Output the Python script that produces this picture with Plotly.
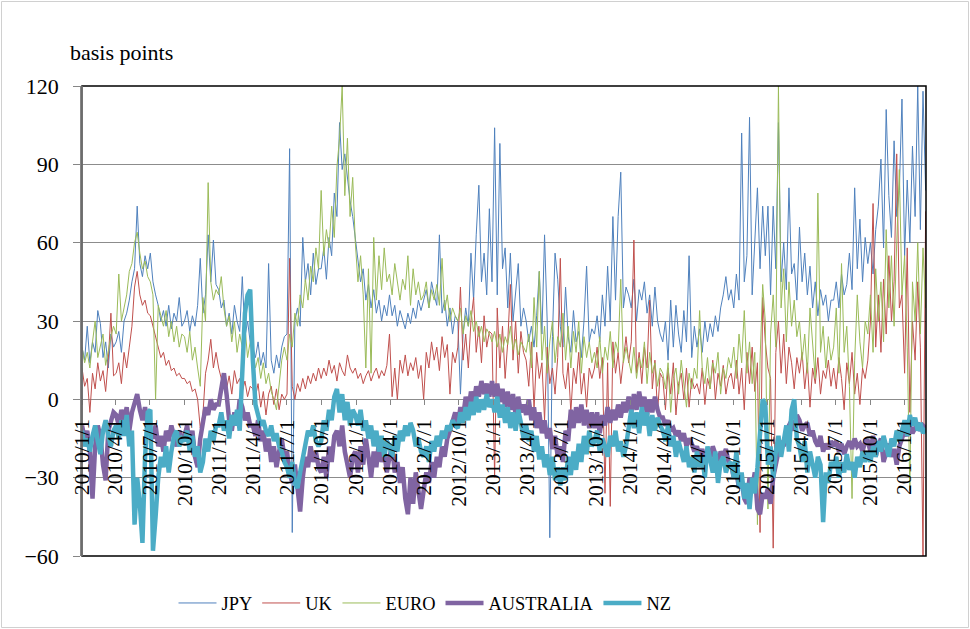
import pandas as pd
import plotly.graph_objects as go

# ---- data (weekly readings, 2010-01-01 onwards; one line per quarter) ----
JPY = [
    20, 15, 28, 14, 22, 18, 34, 29, 16, 22, 12, 25, 20,
    22, 26, 18, 30, 33, 38, 45, 50, 74, 52, 47, 55, 50,
    56, 45, 40, 36, 30, 34, 28, 36, 27, 33, 30, 39, 28,
    30, 34, 26, 32, 28, 36, 54, 33, 40, 63, 45, 61, 44,
    42, 35, 38, 28, 33, 25, 36, 30, 26, 47, 24, 30, 22,
    20, 16, 22, 13, 18, 12, 52, 15, 10, 17, 12, 20, 24,
    25, 96, -51, 30, 35, 28, 62, 45, 52, 40, 56, 44, 50,
    50, 58, 46, 62, 55, 79, 70, 106, 88, 94, 84, 76, 70,
    62, 52, 45, 50, 38, 44, 35, 42, 33, 38, 30, 36, 32,
    40, 32, 36, 28, 34, 30, 27, 33, 29, 35, 31, 38, 34,
    38, 42, 35, 45, 40, 36, 63, 33, 38, 28, 35, 25, 32,
    30, 2, 25, 35, 28, 56, 38, 63, 82, 45, 56, 40, 73,
    45, 104, 40, 98, 50, 58, 35, 56, 30, 42, 52, 28, 35,
    30, 22, 28, 20, 32, 49, 25, 63, 30, -53, 24, 56, 46,
    28, 20, 43, 24, 18, 34, 22, 26, 16, 30, 51, 22, 27,
    25, 32, 22, 40, 28, 51, 30, 70, 38, 70, 87, 35, 43,
    40, 35, 46, 30, 42, 38, 45, 33, 40, 28, 43, 30, 25,
    22, 30, 15, 38, 20, 36, 25, 18, 34, 22, 55, 16, 28,
    20, 27, 18, 30, 22, 29, 24, 32, 26, 35, 40, 47, 38,
    42, 35, 48, 38, 102, 45, 55, 108, 40, 60, 81, 50, 74,
    55, 74, 40, 74, 50, 106, 45, 60, 42, 81, 48, 52, 38,
    66, 45, 56, 40, 51, 35, 45, 32, 42, 36, 40, 30, 38,
    38, 45, 35, 48, 40, 44, 56, 42, 81, 50, 69, 45, 62,
    52, 60, 48, 65, 74, 92, 58, 111, 78, 62, 99, 70, 80,
    115, 55, 84, 60, 97, 70, 120, 65, 118, 80,
]
UK = [
    12, 5, 8, -5, 10, 4, 14, 7, 11, 3, 15, 33, 9,
    10, 14, 6, 18, 12, 20, 28, 43, 49, 40, 36, 38, 33,
    32, 28, 24, 20, 16, 18, 13, 15, 11, 12, 9, 10, 8,
    8, 6, 7, 3, 4, 0, -11, -6, 10, 15, 23, 12, 18,
    12, 8, 10, 4, 9, 2, 11, 6, 8, 3, 7, 1, 5,
    4, 1, 6, -3, 3, -6, 2, 5, -2, 4, -4, 2, 0,
    2, 54, 5, 0, 6, 3, 8, 4, 9, 6, 10, 7, 12,
    8, 12, 9, 15, 10, 13, 7, 14, 11, 9, 17, 12, 10,
    12, 8, 10, 6, 9, 11, 7, 10, 12, 8, 11, 9, 13,
    25, 1, 12, 0, 15, 10, 17, 9, 14, 11, 16, 8, 13,
    0, 18, 12, 22, 15, 20, 11, 24, 16, 21, 2, 18, 14,
    20, 43, 15, 25, 12, 30, 39, 18, 28, 14, 32, 20, 26,
    25, -30, 35, 12, 28, 8, 22, 44, 15, 30, 10, 26, 18,
    15, 5, 22, -4, 18, 8, 14, -8, 20, 6, 12, 2, 16,
    54, 10, 4, 14, -5, 12, 6, 18, 2, 10, -3, 12, 8,
    12, 20, 8, 16, -36, 14, -41, 22, 10, 18, 6, 15, 24,
    14, 22, 61, 10, 18, 6, 20, 12, 38, 4, 15, -5, 10,
    8, -4, 12, 2, 14, -6, 6, 10, 0, 12, -3, 8, 4,
    6, 2, 12, -2, 8, 4, 15, 0, 10, 5, 13, 2, 8,
    10, 4, 15, 2, 12, -4, 18, 6, 20, 3, 14, -51, 39,
    22, 12, 8, -57, 18, 30, 10, 25, 6, 20, 14, 4, 16,
    10, 18, 4, 14, -3, 12, 6, 16, 2, 11, 8, 15, 5,
    12, 4, 16, 8, -4, 14, 6, 18, 2, 10, -2, 12, 8,
    15, 30, 75, 20, 40, 18, 46, 25, 55, 30, 45, 94, 35,
    40, 10, 58, -5, 30, 15, 45, 20, -60, 72,
]
EURO = [
    20, 14, 18, 12, 22, 30, 16, 20, 25, 13, 19, 24, 28,
    25, 48, 30, 35, 40, 49, 52, 60, 64, 56, 50, 53, 47,
    45, 40, 0, 36, 32, 28, 34, 24, 30, 22, 28, 20, 25,
    24, 18, 26, 15, 20, 12, 5, 39, 30, 83, 45, 38, 42,
    40, 47, 35, 28, 32, 22, 30, 18, 25, 20, 28, 16, 22,
    18, 12, 16, 8, 14, 6, 10, 3, 0, -4, 5, 15, 20,
    15, 25, 20, 33, 28, 40, 35, 46, 38, 51, 45, 58, 50,
    80, 55, 65, 58, 74, 62, 89, 100, 120, 78, 100, 70, 85,
    60, 45, 55, 40, 12, 50, 10, 62, 38, 55, 42, 58, 45,
    48, 40, 52, 44, 38, 46, 42, 55, 36, 50, 40, 45, 38,
    40, 45, 35, 42, 38, 44, 36, 54, 34, 40, 30, 35, 32,
    30, 35, 25, 32, 28, 34, 26, 30, 24, 28, 22, 27, 25,
    22, 26, 20, 25, 18, 24, 21, 28, 19, 23, 17, 22, 20,
    18, 25, 12, 39, 20, 49, 15, 28, 10, 22, 30, 14, 24,
    20, 33, 15, 28, 12, 26, 18, 30, 10, 24, 16, 22, 14,
    18, 12, 24, 10, 20, 15, 26, 12, 22, 18, 46, 14, 20,
    15, 10, 20, 8, 16, 12, 22, 6, 18, 10, 14, 5, 12,
    10, 4, 14, -5, 8, 12, 2, 15, 6, -3, 10, 4, 12,
    8, 34, 12, 6, 16, 4, 14, 10, 18, 2, 12, 8, 16,
    12, 20, 8, 25, 14, 34, 10, 22, 6, 18, -48, 15, 44,
    30, -42, 25, 40, 20, 120, 35, 50, 22, 45, 28, 38, 24,
    30, 15, 25, 10, 35, 20, 8, 79, 18, 28, 12, 24, 15,
    20, 35, 10, 52, 18, 28, 5, -38, 15, 40, 22, 12, 30,
    25, 40, 18, 50, 30, 45, 22, 65, 35, 55, 28, 60, 88,
    40, 55, 20, -35, 45, 30, 60, 25, 58, 35,
]
AUSTRALIA = [
    -10, -15, -12, -20, -38, -18, -10, -14, -25, -31, -12, -8, -5,
    -6, -10, -4, -8, -3, -12, -5, -2, 2, -4, -8, -3, -10,
    -12, -15, -10, -18, -14, -20, -12, -16, -10, -14, -18, -12, -15,
    -14, -10, -18, -12, -22, -26, -15, -8, -3, -6, 0, -4, -2,
    -2, 5, 10, 2, -8, -12, -5, -10, 0, -3, -8, -5, -10,
    -10, -14, -8, -16, -12, -20, -15, -24, -18, -26, -20, -15, -22,
    -20, -28, -32, -25, -36, -43, -30, -22, -26, -18, -24, -20, -26,
    -28, -22, -30, -18, -24, -14, -12, -18, -10, -20, -25, -30, -22,
    -20, -28, -18, -25, -15, -22, -30, -20, -26, -16, -24, -20, -28,
    -22, -18, -28, -24, -32, -26, -38, -44, -30, -40, -28, -36, -42,
    -35, -28, -32, -24, -30, -22, -26, -18, -22, -15, -12, -8, -5,
    -10, -3, -7, 1, -5, 3, -2, 5, 1, 7, 2, 6, 1,
    7, 1, 6, -1, 4, -3, 3, -4, 2, -6, 1, -5, -2,
    -6, 0, -8, -3, -11, -5, -13, -8, -15, -11, -19, -14, -22,
    -18, -24, -12, -16, -4, -11, -3, -9, -2, -10, -4, -11, -5,
    -11, -5, -13, -6, -10, -3, -9, -4, -8, -2, -7, -1, -5,
    1, -5, 2, -4, 3, -3, 1, -6, 0, -5, 1, -4, -7,
    -7, -10, -8, -12, -11, -14, -12, -16, -13, -18, -15, -17, -20,
    -18, -22, -19, -24, -20, -23, -18, -21, -25, -20, -22, -19, -24,
    -25, -30, -28, -34, -31, -38, -40, -30, -34, -28, -42, -44, -36,
    -38, -34, -40, -30, -24, -20, -16, -18, -12, -10, -8, -12, -6,
    -8, -12, -10, -9, -14, -12, -16, -18, -14, -20, -17, -19, -16,
    -18, -16, -20, -17, -21, -18, -16, -19, -15, -18, -17, -20, -16,
    -16, -20, -14, -22, -18, -15, -24, -20, -17, -22, -19, -25, -18,
    -15, -12, -14, -10, -13, -11, -9, -12, -10, -11,
]
NZ = [
    -12, -18, -15, -20, -14, -10, -16, -21, -12, -8, -14, -18, -12,
    -10, -15, -8, -14, -6, -18, -12, -48, -30, -40, -55, -22, -5,
    -4, -58, -45, -30, -22, -26, -18, -28, -20, -14, -12, -18, -15,
    -16, -12, -20, -14, -22, -18, -28, -24, -15, -20, -12, -16, -10,
    -10, -5, -12, -8, -15, -6, -10, -4, -12, 10, 33, 40, 42,
    15, -2, -6, -10, -8, -12, -14, -10, -16, -13, -18, -20, -24,
    -26, -30, -24, -32, -34, -28, -22, -16, -12, -14, -10, -16, -18,
    -16, -8, -12, -4, -8, 1, 4, -5, 2, -8, -1, -10, -4,
    -6, -10, -4, -12, -8, -15, -10, -18, -12, -20, -14, -22, -16,
    -18, -22, -14, -20, -12, -16, -10, -14, -9, -12, -18, -15, -20,
    -22, -18, -24, -16, -20, -14, -18, -12, -15, -10, -12, -8, -10,
    -11, -5, -9, -3, -8, -1, -6, 1, -5, 0, -4, 2, -3,
    0, -5, 1, -7, -2, -9, -3, -11, -5, -12, -4, -9, -15,
    -10, -16, -12, -20, -14, -23, -18, -26, -21, -29, -22, -31, -26,
    -33, -26, -31, -22, -29, -20, -27, -17, -24, -14, -21, -12, -18,
    -16, -12, -20, -15, -18, -22, -14, -18, -12, -20, -16, -22, -18,
    -12, -4, -11, -5, -13, -3, -10, -5, -14, -6, -12, -7, -10,
    -12, -16, -10, -18, -14, -22, -16, -20, -24, -18, -26, -22, -28,
    -20, -26, -22, -30, -18, -24, -28, -20, -32, -24, -22, -28, -25,
    -24, -30, -20, -34, -28, -38, -32, -42, -30, -36, -26, -10, 0,
    -2, -25, -18, -30, -20, -14, -22, -16, -10, -20, -4, 0, -15,
    -18, -24, -16, -28, -20, -26, -30, -22, -25, -47, -28, -32, -24,
    -26, -22, -30, -24, -28, -21, -27, -24, -30, -22, -26, -20, -24,
    -20, -24, -18, -22, -16, -20, -14, -18, -22, -15, -18, -12, -16,
    -12, -8, -14, -6, -10, -7, -12, -9, -13, -11,
]
START_DATE = "2010-01-01"
TICK_DATES = [f"{y}-{m:02d}-01" for y in range(2010, 2017) for m in (1, 4, 7, 10)][:25]
TICK_LABELS = [f"{y}/{m}/1" for y in range(2010, 2017) for m in (1, 4, 7, 10)][:25]
Y_TICKS = [-60, -30, 0, 30, 60, 90, 120]

SERIES = [
    ("JPY", JPY, "#4F81BD", 1),
    ("UK", UK, "#C0504D", 1),
    ("EURO", EURO, "#9BBB59", 1),
    ("AUSTRALIA", AUSTRALIA, "#8064A2", 4.5),
    ("NZ", NZ, "#4BACC6", 4.5),
]

for _, vals, _, _ in SERIES:
    assert len(vals) == len(JPY), (len(vals), len(JPY))

dates = pd.date_range(START_DATE, periods=len(JPY), freq="7D")

FONT = '"Times New Roman", "Liberation Serif", serif'
fig = go.Figure()
for name, vals, color, width in SERIES:
    fig.add_trace(go.Scatter(x=dates, y=vals, name=name, mode="lines",
                             line=dict(color=color, width=width)))

W, H = 970, 629
ML, MR, MT, MB = 82, 44, 86, 73
PW, PH = W - ML - MR, H - MT - MB

# category labels sit on the zero line, drawn above the traces
tick_annotations = [
    dict(x=d, y=0, xref="x", yref="y", text=t, textangle=-90,
         xanchor="center", yanchor="top", yshift=-18, showarrow=False,
         font=dict(size=21.5, family=FONT, color="black"))
    for d, t in zip(TICK_DATES, TICK_LABELS)
]

fig.update_layout(
    width=W, height=H,
    margin=dict(l=ML, r=MR, t=MT, b=MB, pad=0, autoexpand=False),
    paper_bgcolor="white", plot_bgcolor="white",
    font=dict(family=FONT, color="black"),
    showlegend=True,
    legend=dict(orientation="h", x=(425 - ML) / PW, xanchor="center",
                y=(H - MB - 603) / PH, yanchor="middle",
                font=dict(size=18.4, family=FONT), itemwidth=38,
                bgcolor="rgba(0,0,0,0)"),
    xaxis=dict(type="date", range=["2010-01-01", "2016-02-27"],
               anchor="free", position=1 / 3,
               tickmode="array", tickvals=TICK_DATES, ticktext=TICK_LABELS,
               showticklabels=False,
               ticks="outside", ticklen=5, tickcolor="#868686",
               showgrid=False, showline=False, zeroline=False,
               automargin=False),
    yaxis=dict(range=[-60, 120], tickvals=Y_TICKS, ticks="outside", ticklen=7,
               tickcolor="#868686", showgrid=True, gridcolor="#8c8c8c",
               gridwidth=1, zeroline=False, showline=True, linecolor="#868686",
               linewidth=1.5, tickfont=dict(size=22, family=FONT, color="black"),
               ticklabelstandoff=10, automargin=False),
    annotations=[dict(text="basis points", xref="paper", yref="paper",
                      x=(68 - ML) / PW, y=(H - MB - 52) / PH,
                      xanchor="left", yanchor="middle", showarrow=False,
                      font=dict(size=22, family=FONT, color="black"))]
    + tick_annotations,
    shapes=[
        dict(type="rect", xref="paper", yref="paper", x0=0, x1=1, y0=0, y1=1,
             line=dict(color="black", width=1.5), layer="above"),
        dict(type="line", xref="paper", yref="paper", x0=0, x1=0, y0=0, y1=1,
             line=dict(color="#868686", width=1.5), layer="above"),
        dict(type="rect", xref="paper", yref="paper",
             x0=(1.5 - ML) / PW, x1=(W - 1.5 - ML) / PW,
             y0=-(MB - 1.5) / PH, y1=1 + (MT - 1.5) / PH,
             line=dict(color="#d0d0d0", width=1), layer="below"),
    ],
)

fig.write_html("out.html", config={"displayModeBar": False},
               post_script="document.body.style.margin='0';")
